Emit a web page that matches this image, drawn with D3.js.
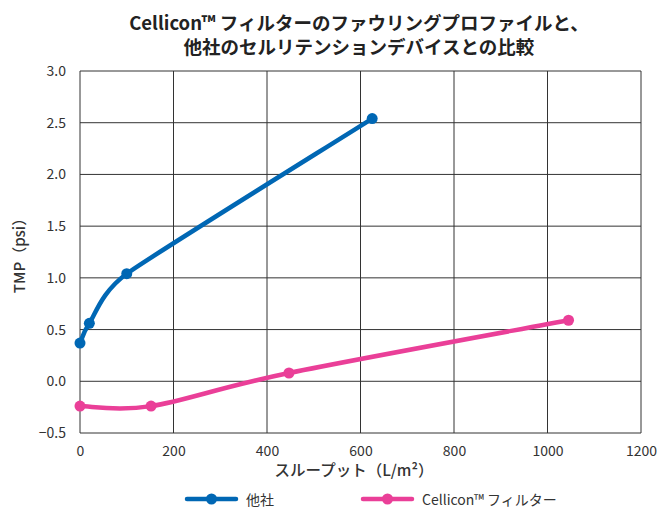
<!DOCTYPE html>
<html>
<head>
<meta charset="utf-8">
<script src="https://cdn.jsdelivr.net/npm/d3@7"></script>
<style>
body { margin: 0; background: #fff; }
text { font-family: "Noto Sans CJK JP", "Noto Sans", sans-serif; fill: #222; }
</style>
</head>
<body>
<div id="chart"></div>
<script>
var seriesNames = ["他社", "Cellicon™ フィルター"];
var seriesColors = ["#0067b4", "#ea3f98"];
var otherX = [0, 20, 100, 625];
var otherY = [0.37, 0.56, 1.04, 2.54];
var celliconX = [0, 152, 447, 1045];
var celliconY = [-0.24, -0.24, 0.08, 0.59];
var xTicks = [0, 200, 400, 600, 800, 1000, 1200];
var yTicks = [-0.5, 0, 0.5, 1.0, 1.5, 2.0, 2.5, 3.0];

var width = 660, height = 508;
var margin = {left: 80, right: 19, top: 71, bottom: 75};

var svg = d3.select("#chart").append("svg")
	.attr("width", width)
	.attr("height", height);

var x = d3.scaleLinear().domain([0, 1200]).range([margin.left, width - margin.right]);
var y = d3.scaleLinear().domain([-0.5, 3.0]).range([height - margin.bottom, margin.top]);

// smoothed line like a spreadsheet: catmull-rom tangents, handles clamped to half the neighbouring segment
function SmoothCurve(context){ this._context = context; }
SmoothCurve.prototype = {
	areaStart: function(){}, areaEnd: function(){},
	lineStart: function(){ this._pts = []; },
	point: function(px, py){ this._pts.push([+px, +py]); },
	lineEnd: function(){
		var p = this._pts, c = this._context, n = p.length;
		if (!n) return;
		c.moveTo(p[0][0], p[0][1]);
		if (n < 3){ for (var k = 1; k < n; k++) c.lineTo(p[k][0], p[k][1]); return; }
		function dist(a, b){ return Math.hypot(a[0] - b[0], a[1] - b[1]); }
		var tan = p.map(function(pt, i){
			var a = p[Math.max(i - 1, 0)], b = p[Math.min(i + 1, n - 1)];
			var d = dist(a, b); if (!d) return [0, 0];
			var len = d / 6;
			if (i > 0) len = Math.min(len, dist(p[i - 1], pt) / 2);
			if (i < n - 1) len = Math.min(len, dist(pt, p[i + 1]) / 2);
			return [(b[0] - a[0]) / d * len, (b[1] - a[1]) / d * len];
		});
		for (var i = 0; i < n - 1; i++){
			c.bezierCurveTo(p[i][0] + tan[i][0], p[i][1] + tan[i][1],
				p[i + 1][0] - tan[i + 1][0], p[i + 1][1] - tan[i + 1][1],
				p[i + 1][0], p[i + 1][1]);
		}
	}
};
function smoothCurve(context){ return new SmoothCurve(context); }

// title
var title = svg.append("text")
	.attr("text-anchor", "middle")
	.style("font-size", "18.5px")
	.style("font-weight", "bold");
title.append("tspan").attr("x", 359).attr("y", 30).text("Cellicon™ フィルターのファウリングプロファイルと、");
title.append("tspan").attr("x", 359).attr("y", 54).text("他社のセルリテンションデバイスとの比較");

// grid
svg.append("g").selectAll("line").data(xTicks).enter().append("line")
	.attr("x1", function(d){ return x(d); })
	.attr("x2", function(d){ return x(d); })
	.attr("y1", y(3.0))
	.attr("y2", y(-0.5))
	.attr("stroke", "#333")
	.attr("stroke-width", 1);
svg.append("g").selectAll("line").data(yTicks).enter().append("line")
	.attr("x1", x(0))
	.attr("x2", x(1200))
	.attr("y1", function(d){ return y(d); })
	.attr("y2", function(d){ return y(d); })
	.attr("stroke", "#333")
	.attr("stroke-width", 1);

// axes labels
var xAxis = svg.append("g")
	.attr("transform", "translate(0," + y(-0.5) + ")")
	.call(d3.axisBottom(x).tickValues(xTicks).tickFormat(d3.format("d")).tickSize(0).tickPadding(13));
xAxis.select(".domain").remove();
xAxis.selectAll("text").style("font-size", "14px").style("fill", "#333");

var yAxis = svg.append("g")
	.attr("transform", "translate(" + x(0) + ",0)")
	.call(d3.axisLeft(y).tickValues(yTicks).tickFormat(d3.format(".1f")).tickSize(0).tickPadding(14));
yAxis.select(".domain").remove();
yAxis.selectAll("text").style("font-size", "14px").style("fill", "#333");

svg.append("text")
	.attr("x", 354).attr("y", 476)
	.attr("text-anchor", "middle")
	.style("font-size", "15.5px")
	.style("font-weight", "500")
	.style("fill", "#333")
	.text("スループット（L/m²）");

svg.append("text")
	.attr("transform", "translate(25," + y(1.25) + ") rotate(-90)")
	.attr("text-anchor", "middle")
	.style("font-size", "15px")
	.style("font-weight", "500")
	.style("fill", "#333")
	.text("TMP（psi）");

// series
var series = [
	{name: seriesNames[0], color: seriesColors[0], xs: otherX, ys: otherY},
	{name: seriesNames[1], color: seriesColors[1], xs: celliconX, ys: celliconY}
];

var line = d3.line()
	.x(function(d){ return x(d[0]); })
	.y(function(d){ return y(d[1]); })
	.curve(smoothCurve);

series.forEach(function(s){
	var pts = s.xs.map(function(v, i){ return [v, s.ys[i]]; });
	svg.append("path")
		.attr("d", line(pts))
		.attr("fill", "none")
		.attr("stroke", s.color)
		.attr("stroke-width", 4.5)
		.attr("stroke-linecap", "round");
	svg.append("g").selectAll("circle").data(pts).enter().append("circle")
		.attr("cx", function(d){ return x(d[0]); })
		.attr("cy", function(d){ return y(d[1]); })
		.attr("r", 5.5)
		.attr("fill", s.color);
});

// legend
var legendX = [187, 363];
series.forEach(function(s, i){
	var g = svg.append("g").attr("transform", "translate(" + legendX[i] + ",499)");
	g.append("line")
		.attr("x1", 0).attr("x2", 49)
		.attr("stroke", s.color)
		.attr("stroke-width", 4.5)
		.attr("stroke-linecap", "round");
	g.append("circle").attr("cx", 24.5).attr("r", 5.5).attr("fill", s.color);
	g.append("text")
		.attr("x", 59).attr("y", 0)
		.attr("dominant-baseline", "central")
		.style("font-size", "14px")
		.style("fill", "#333")
		.text(s.name);
});
</script>
</body>
</html>
